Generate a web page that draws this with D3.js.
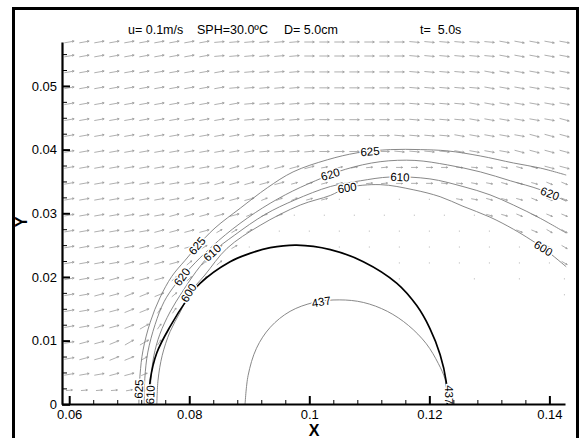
<!DOCTYPE html>
<html>
<head>
<meta charset="utf-8">
<script src="https://cdn.jsdelivr.net/npm/d3@7"></script>
<style>
  html, body { margin: 0; padding: 0; background: #fff; }
  svg { display: block; font-family: "Liberation Sans", Arial, sans-serif; }
</style>
</head>
<body>
<svg id="chart" width="582" height="438"></svg>
<script>
// ticks
var xTicks = [0.06, 0.08, 0.1, 0.12, 0.14];
var xTickLabels = ["0.06", "0.08", "0.1", "0.12", "0.14"];
var yTicks = [0, 0.01, 0.02, 0.03, 0.04, 0.05];
var yTickLabels = ["0", "0.01", "0.02", "0.03", "0.04", "0.05"];
var xMinor = [0.064, 0.068, 0.072, 0.076, 0.084, 0.088, 0.092, 0.096, 0.104, 0.108, 0.112, 0.116, 0.124, 0.128, 0.132, 0.136];
var yMinor = [0.0025, 0.005, 0.0075, 0.0125, 0.015, 0.0175, 0.0225, 0.025, 0.0275, 0.0325, 0.035, 0.0375, 0.0425, 0.045, 0.0475, 0.0525, 0.055];

// vector grid (columns / rows, top row first)
var vecX = [0.06, 0.0625, 0.065, 0.0675, 0.07, 0.0725, 0.075, 0.0775, 0.08, 0.0825, 0.085, 0.0875,
            0.09, 0.0925, 0.095, 0.0975, 0.1, 0.1025, 0.105, 0.1075, 0.11, 0.1125, 0.115, 0.1175,
            0.12, 0.1225, 0.125, 0.1275, 0.13, 0.1325, 0.135, 0.1375, 0.14, 0.1425];
var vecY = [0.0569, 0.0547, 0.0522, 0.0497, 0.0472, 0.0447, 0.0422, 0.0397, 0.0372, 0.0347, 0.0322, 0.0297,
            0.0272, 0.0247, 0.0222, 0.0197, 0.0172, 0.0147, 0.0122, 0.0097, 0.0072, 0.0047, 0.0022];
// direction code per cell: letter = angle, upper case = free stream speed, lower case = slow, "." = ~0, "_" = none
var vecAngle = { A: 55, B: 40, C: 30, D: 22, E: 15, F: 10, G: 5, H: 0, I: -5, J: -10, K: -15, L: -22, M: -30 };
var speedFast = 0.1, speedSlow = 0.065;
var vecRows = [
  "FFFFFFFFFFGGGGGGHHHHHHHIIIIIIJJJJJ",
  "FFFFFFFFFFGGGGGGHHHHHHHIIIIIIJJJJJ",
  "FFFFFFFFFFFGGGGGHHHHHHHIIIIIJJJJJJ",
  "FFFFFFFFFFFGGGGGHHHHHHHIIIIIJJJJJJ",
  "FFFFFFFFFFFFGGGGGHHHHHHIIIIJJJJJJJ",
  "FFFFFFFFFFFFGGGGGHHHHHHIIIIJJJJJJK",
  "FFFFFFFFFFFFFGGGGHHHHHIIIIJJJJJKKK",
  "FFFFFFFFFFFFFGGGGHHHHHIIIIJJJJKKKK",
  "FFFFFFFFFFFEEEEEEfffgghhhhiijjkkKK",
  "FFFFFFFFFFEEEEEeeeffgghhhiijjkkkll",
  "FFFFFFFFEEEEEdddee._._._._jjkkklll",
  "FFFFFFFEEEEEddd._._._._._._.kkllll",
  "FFFFFFEEEEccc_._._._._._._._._llmm",
  "FFFFFEEEEccc._____._._._._._._._mm",
  "FFFFEEEEbbb___________._._._._._.m",
  "FFFEEEEbbb____________.____.__.__.",
  "FFEEDDDbb________________________.",
  "FFEEDDaa__________________________",
  "FFEEDCa___________________________",
  "FEEDCCa___________________________",
  "FEEDDc____________________________",
  "FFFEEd____________________________",
  "ggggfe____________________________"
];

// contour lines, [x, y] in metres
var c625 = [[0.0716,0],[0.0718,0.0046],[0.0723,0.0085],[0.0735,0.0129],[0.0751,0.0167],[0.0771,0.0201],[0.0793,0.0226],
  [0.0813,0.0248],[0.0843,0.0277],[0.0885,0.0308],[0.0930,0.0340],[0.0973,0.0365],[0.1030,0.0384],[0.1080,0.0395],
  [0.1135,0.0400],[0.1185,0.0400],[0.1230,0.0398],[0.1285,0.0390],[0.1340,0.0379],[0.1385,0.0371],[0.1428,0.0360]];
var c620 = [[0.0725,0],[0.0726,0.0041],[0.0731,0.0082],[0.0743,0.0125],[0.0758,0.0161],[0.0776,0.0187],[0.0788,0.0200],
  [0.0818,0.0230],[0.0860,0.0266],[0.0910,0.0301],[0.0960,0.0329],[0.1010,0.0351],[0.1060,0.0369],[0.1118,0.0381],
  [0.1176,0.0383],[0.1230,0.0376],[0.1285,0.0365],[0.1335,0.0351],[0.1385,0.0337],[0.1428,0.0319]];
var c610 = [[0.0735,0],[0.0736,0.0038],[0.0741,0.0076],[0.0751,0.0110],[0.0768,0.0145],[0.0788,0.0176],[0.0811,0.0208],
  [0.0838,0.0238],[0.0876,0.0266],[0.0926,0.0298],[0.0976,0.0321],[0.1035,0.0342],[0.1085,0.0351],[0.1135,0.0357],
  [0.1201,0.0354],[0.1256,0.0342],[0.1301,0.0329],[0.1340,0.0313],[0.1385,0.0292],[0.1428,0.0269]];
var c600 = [[0.0746,0],[0.0748,0.0038],[0.0755,0.0077],[0.0768,0.0114],[0.0785,0.0145],[0.0801,0.0175],[0.0826,0.0203],
  [0.0863,0.0245],[0.0918,0.0281],[0.0985,0.0313],[0.1035,0.0328],[0.1063,0.0340],[0.1118,0.0345],[0.1173,0.0337],
  [0.1218,0.0326],[0.1256,0.0311],[0.1301,0.0294],[0.1340,0.0275],[0.1368,0.0259],[0.1393,0.0243],[0.1428,0.0216]];
var c437 = [[0.0893,0],[0.0898,0.0045],[0.0912,0.0088],[0.0935,0.0121],[0.0968,0.0146],[0.1008,0.0160],[0.1050,0.0164],
  [0.1090,0.0160],[0.1130,0.0146],[0.1165,0.0124],[0.1195,0.0095],[0.1215,0.0064],[0.1226,0.0040],[0.1229,0.0020],[0.1230,0]];
// solid boundary (thick black)
var wall = [[0.0733,0],[0.0735,0.0038],[0.0746,0.0081],[0.0768,0.0122],[0.0796,0.0164],[0.0818,0.0190],[0.0868,0.0224],
  [0.0901,0.0237],[0.0935,0.0246],[0.0979,0.0250],[0.1035,0.0243],[0.1090,0.0224],[0.1146,0.0190],[0.1179,0.0155],
  [0.1201,0.0119],[0.1218,0.0078],[0.1228,0.0036],[0.1230,0]];

var levels = [c625, c620, c610, c600];

// contour labels: text, x, y, rotation
var labelSpots = [
  ["625", 0.1101, 0.0397, -4], ["620", 0.1035, 0.0361, -17], ["610", 0.1151, 0.0357, 2], ["600", 0.1063, 0.0340, -8],
  ["620", 0.1401, 0.0331, 20], ["600", 0.1390, 0.0245, 32],
  ["625", 0.0813, 0.0249, -50], ["620", 0.0788, 0.0200, -55], ["610", 0.0838, 0.0238, -42], ["600", 0.0799, 0.0175, -58],
  ["625", 0.0716, 0.0024, -88], ["610", 0.0735, 0.0015, -88],
  ["437", 0.1020, 0.0161, -10], ["437", 0.1232, 0.0015, 90]
];

var svg = d3.select("#chart");

var x = d3.scaleLinear().domain([0.0588, 0.1426]).range([62, 565]);
var y = d3.scaleLinear().domain([0, 0.0569]).range([404.3, 42]);
var vecLen = d3.scaleLinear().domain([0, 0.1]).range([0, 10]);

// outer frame
svg.append("rect")
    .attr("x", 13.5).attr("y", 8.5)
    .attr("width", 564).attr("height", 445)
    .attr("fill", "none").attr("stroke", "#000").attr("stroke-width", 3);

// vectors
var gVec = svg.append("g")
    .attr("fill", "none")
    .attr("stroke", "#9a9a9a")
    .attr("stroke-width", 0.8);

vecRows.forEach(function (row, j) {
    for (var i = 0; i < row.length; i++) {
        var c = row[i];
        if (c === "_") continue;
        var cx = x(vecX[i]), cy = y(vecY[j]);
        if (c === ".") {
            gVec.append("rect")
                .attr("x", cx - 0.5).attr("y", cy - 0.5)
                .attr("width", 1).attr("height", 1)
                .attr("stroke", "none").attr("fill", "#b0b0b0");
            continue;
        }
        var a = vecAngle[c.toUpperCase()] * Math.PI / 180;
        var L = vecLen(c === c.toUpperCase() ? speedFast : speedSlow);
        var ux = Math.cos(a), uy = -Math.sin(a);
        var tx = cx - ux * L / 2, ty = cy - uy * L / 2;
        var hx = cx + ux * L / 2, hy = cy + uy * L / 2;
        var h = Math.max(1.8, L * 0.22), ha = 26 * Math.PI / 180;
        var b1x = hx - h * (ux * Math.cos(ha) - uy * Math.sin(ha));
        var b1y = hy - h * (uy * Math.cos(ha) + ux * Math.sin(ha));
        var b2x = hx - h * (ux * Math.cos(ha) + uy * Math.sin(ha));
        var b2y = hy - h * (uy * Math.cos(ha) - ux * Math.sin(ha));
        gVec.append("path")
            .attr("d", "M" + tx + "," + ty + "L" + hx + "," + hy +
                       "M" + b1x + "," + b1y + "L" + hx + "," + hy + "L" + b2x + "," + b2y);
    }
});

// contour lines
var line = d3.line()
    .x(function (d) { return x(d[0]); })
    .y(function (d) { return y(d[1]); })
    .curve(d3.curveCatmullRom);

svg.append("g").selectAll("path")
    .data(levels.concat([c437]))
    .enter().append("path")
    .attr("d", line)
    .attr("fill", "none")
    .attr("stroke", "#7a7a7a")
    .attr("stroke-width", 0.9);

svg.append("path")
    .datum(wall)
    .attr("d", line)
    .attr("fill", "none")
    .attr("stroke", "#000")
    .attr("stroke-width", 1.7);

// contour labels
svg.append("g").selectAll("text")
    .data(labelSpots)
    .enter().append("text")
    .attr("transform", function (d) { return "translate(" + x(d[1]) + "," + y(d[2]) + ") rotate(" + d[3] + ")"; })
    .attr("text-anchor", "middle")
    .attr("dy", "0.35em")
    .attr("font-size", 11.5)
    .attr("fill", "#000")
    .attr("stroke", "#fff")
    .attr("stroke-width", 3)
    .attr("paint-order", "stroke")
    .text(function (d) { return d[0]; });

// axes
var gx = svg.append("g")
    .attr("transform", "translate(0,404)")
    .call(d3.axisBottom(x).tickValues(xTicks)
        .tickFormat(function (d, i) { return xTickLabels[i]; })
        .tickSizeInner(-8).tickSizeOuter(0).tickPadding(6));
gx.append("g")
    .call(d3.axisBottom(x).tickValues(xMinor).tickFormat("").tickSizeInner(-4).tickSizeOuter(0))
    .select(".domain").remove();

var gy = svg.append("g")
    .attr("transform", "translate(62,0)")
    .call(d3.axisLeft(y).tickValues(yTicks)
        .tickFormat(function (d, i) { return yTickLabels[i]; })
        .tickSizeInner(-8).tickSizeOuter(0).tickPadding(5));
gy.append("g")
    .call(d3.axisLeft(y).tickValues(yMinor).tickFormat("").tickSizeInner(-5).tickSizeOuter(0))
    .select(".domain").remove();

[gx, gy].forEach(function (g) {
    g.attr("font-family", "Liberation Sans, Arial, sans-serif").attr("font-size", 13);
    g.selectAll(".domain").attr("stroke", "#000").attr("stroke-width", 2.2);
    g.selectAll(".tick line").attr("stroke", "#000").attr("stroke-width", 1);
    g.selectAll("text").attr("fill", "#000");
});
gx.selectAll(":scope > .tick line").attr("stroke-width", 2);
gy.selectAll(":scope > .tick line").attr("stroke-width", 2);

// axis titles
svg.append("text")
    .attr("x", 314).attr("y", 436)
    .attr("text-anchor", "middle")
    .attr("font-size", 16).attr("font-weight", "bold")
    .text("X");
svg.append("text")
    .attr("transform", "translate(27,222) rotate(-90)")
    .attr("text-anchor", "middle")
    .attr("font-size", 16).attr("font-weight", "bold")
    .text("Y");

// header
var header = [["u= 0.1m/s", 128], ["SPH=30.0ºC", 197], ["D= 5.0cm", 284], ["t=  5.0s", 420]];
svg.append("g").selectAll("text")
    .data(header)
    .enter().append("text")
    .attr("x", function (d) { return d[1]; })
    .attr("y", 34)
    .attr("font-size", 12.5)
    .style("white-space", "pre")
    .text(function (d) { return d[0]; });
</script>
</body>
</html>
